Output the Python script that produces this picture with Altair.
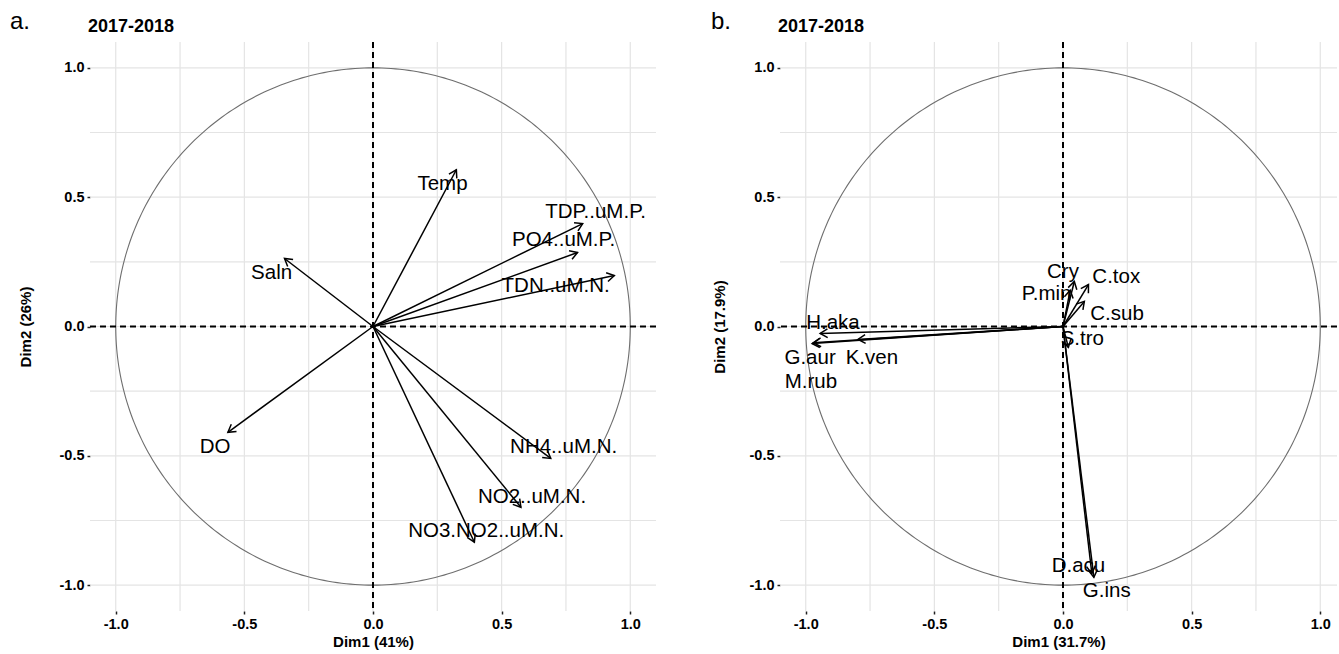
import altair as alt
import pandas as pd
import numpy as np

FONT = "Liberation Sans"

# ---------------- data ----------------
panel_letters = ["a.", "b."]
panel_titles = ["2017-2018", "2017-2018"]
dim1_titles = ["Dim1 (41%)", "Dim1 (31.7%)"]
dim2_titles = ["Dim2 (26%)", "Dim2 (17.9%)"]

# panel a: environmental variables
a_vars = ["Temp", "Saln", "TDP..uM.P.", "PO4..uM.P.", "TDN..uM.N.", "DO",
          "NH4..uM.N.", "NO2..uM.N.", "NO3.NO2..uM.N."]
a_dim1 = [0.324, -0.344, 0.815, 0.795, 0.938, -0.564, 0.691, 0.575, 0.394]
a_dim2 = [0.606, 0.263, 0.398, 0.286, 0.197, -0.409, -0.510, -0.699, -0.834]
a_lab_x = [0.270, -0.394, 0.865, 0.741, 0.710, -0.614, 0.741, 0.618, 0.440]
a_lab_y = [0.552, 0.205, 0.444, 0.336, 0.158, -0.467, -0.467, -0.660, -0.790]

# panel b: taxa
b_vars = ["H.aka", "G.aur", "M.rub", "K.ven", "Cry", "C.tox", "P.min", "C.sub",
          "S.tro", "D.acu", "G.ins"]
b_dim1 = [-0.944, -0.975, -0.970, -0.797, 0.044, 0.099, 0.028, 0.083, 0.021, 0.112, 0.120]
b_dim2 = [-0.027, -0.066, -0.063, -0.050, 0.174, 0.162, 0.140, 0.097, -0.081, -0.955, -0.970]
b_lab_x = [-0.894, -0.983, -0.980, -0.743, 0.000, 0.207, -0.064, 0.210, 0.075, 0.060, 0.170]
b_lab_y = [0.012, -0.120, -0.216, -0.120, 0.212, 0.193, 0.124, 0.050, -0.050, -0.927, -1.023]

tick_vals = [-1.0, -0.5, 0.0, 0.5, 1.0]
grid_vals = [-1.0, -0.75, -0.5, -0.25, 0.0, 0.25, 0.5, 0.75, 1.0]

# unit circle of correlations (reference shape)
t = np.linspace(0, 2 * np.pi, 361)
circle_df = pd.DataFrame({"cx": np.cos(t), "cy": np.sin(t), "o": np.arange(len(t))})

LABEL_EXPR = "replace(format(datum.value, '.1f'), '\u2212', '-')"


def panel(idx, vars_, xs, ys, lx, ly, xdomain, width, letter_dx, ytitle_pad):
    df = pd.DataFrame({"var": vars_, "x": xs, "y": ys, "lx": lx, "ly": ly})
    df["x0"] = 0.0
    df["y0"] = 0.0
    df["angle"] = (-np.degrees(np.arctan2(df["y"], df["x"]))) % 360

    xsc = alt.Scale(domain=xdomain, nice=False, zero=False)
    ysc = alt.Scale(domain=[-1.1, 1.1], nice=False, zero=False)

    common = dict(values=tick_vals, labelExpr=LABEL_EXPR, grid=False, domain=False,
                  ticks=True, tickColor="#222", tickSize=3, tickWidth=1.5,
                  labelFont=FONT, labelFontWeight="bold", labelFontSize=14.5,
                  labelColor="black", labelPadding=3, labelFlush=False,
                  titleFont=FONT, titleFontWeight="bold", titleFontSize=15,
                  titleColor="black")
    xaxis = alt.Axis(title=dim1_titles[idx], titlePadding=4, **common)
    yaxis = alt.Axis(title=dim2_titles[idx], titlePadding=ytitle_pad, **common)

    def X(f):
        return alt.X(f, scale=xsc, axis=xaxis)

    def Y(f):
        return alt.Y(f, scale=ysc, axis=yaxis)

    grid_df = pd.DataFrame({"g": grid_vals})
    vgrid = alt.Chart(grid_df).mark_rule(color="#e4e4e4", strokeWidth=1.2).encode(
        x=X("g:Q"))
    hgrid = alt.Chart(grid_df).mark_rule(color="#e4e4e4", strokeWidth=1.2).encode(
        y=Y("g:Q"))

    circle = alt.Chart(circle_df).mark_line(color="#6e6e6e", strokeWidth=1.1).encode(
        x=X("cx:Q"), y=Y("cy:Q"), order="o:Q")

    zero_df = pd.DataFrame({"z": [0.0]})
    vzero = alt.Chart(zero_df).mark_rule(color="black", strokeWidth=2, strokeDash=[6, 4]).encode(
        x=X("z:Q"))
    hzero = alt.Chart(zero_df).mark_rule(color="black", strokeWidth=2, strokeDash=[6, 4]).encode(
        y=Y("z:Q"))

    arrows = alt.Chart(df).mark_rule(color="black", strokeWidth=1.5).encode(
        x=X("x0:Q"), y=Y("y0:Q"), x2="x:Q", y2="y:Q")

    heads = alt.Chart(df).mark_point(shape="M -1 -0.6 L 0 0 L -1 0.6", filled=False,
                                     stroke="black", strokeWidth=1.5, size=220,
                                     opacity=1).encode(
        x=X("x:Q"), y=Y("y:Q"),
        angle=alt.Angle("angle:Q", scale=None))

    labels = alt.Chart(df).mark_text(font=FONT, fontSize=20.5, color="black",
                                     align="center", baseline="middle").encode(
        x=X("lx:Q"), y=Y("ly:Q"), text="var:N")

    head_df = pd.DataFrame({"letter": [panel_letters[idx]], "title": [panel_titles[idx]]})
    letter = alt.Chart(head_df).mark_text(font=FONT, fontSize=24, color="black",
                                          align="left", baseline="alphabetic").encode(
        x=alt.value(letter_dx), y=alt.value(-13), text="letter:N")
    title = alt.Chart(head_df).mark_text(font=FONT, fontSize=18, fontWeight="bold",
                                         color="black", align="left",
                                         baseline="alphabetic").encode(
        x=alt.value(-2), y=alt.value(-10), text="title:N")

    return alt.layer(vgrid, hgrid, circle, vzero, hzero, arrows, heads, labels,
                     letter, title).properties(width=width, height=569)


left = panel(0, a_vars, a_dim1, a_dim2, a_lab_x, a_lab_y, [-1.1, 1.1], 566, -80, 26)
right = panel(1, b_vars, b_dim1, b_dim2, b_lab_x, b_lab_y, [-1.1, 1.065], 557, -69, 22)

chart = alt.hconcat(left, right, spacing=54).properties(
    padding={"left": 10, "top": 10, "right": 0, "bottom": 0},
    background="white",
).configure_view(stroke=None)

chart.save("out.html", embed_options={"renderer": "svg", "actions": False})
